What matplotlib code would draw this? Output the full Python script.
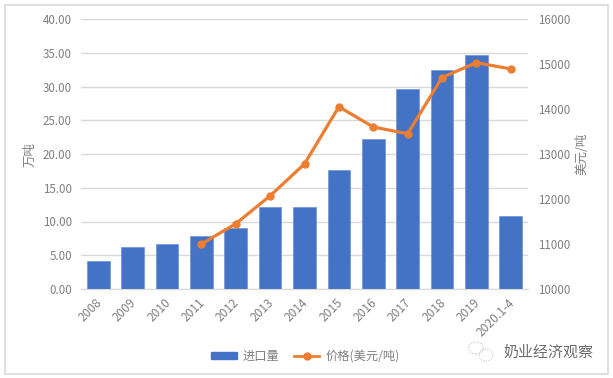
import matplotlib
matplotlib.use('Agg')
import matplotlib.pyplot as plt
from matplotlib.lines import Line2D
from matplotlib.patches import Rectangle, Ellipse
from matplotlib.transforms import ScaledTranslation

plt.rcParams['font.family'] = ['Noto Sans CJK SC', 'DejaVu Sans']

years = ['2008', '2009', '2010', '2011', '2012', '2013', '2014', '2015', '2016', '2017', '2018', '2019', '2020.1-4']
volume = [4.2, 6.2, 6.6, 7.9, 9.1, 12.2, 12.1, 17.6, 22.2, 29.6, 32.4, 34.6, 10.8]
price = [11000, 11450, 12070, 12780, 14050, 13600, 13450, 14700, 15030, 14890]

W, H = 613, 378
grey = '#7f7f7f'
blue = '#4472c4'
orange = '#ed7d31'

fig = plt.figure(figsize=(W / 100, H / 100), dpi=100, facecolor='white')
fig.add_artist(Rectangle((4.5 / W, 1 - 373.5 / H), 603 / W, 369 / H, transform=fig.transFigure,
                         fill=False, edgecolor='#d9d9d9', linewidth=1.2))

ax = fig.add_axes([81 / W, 1 - 289 / H, 447 / W, 270 / H])
x = list(range(len(years)))
ax.bar(x, volume, width=0.66, color=blue, edgecolor='#6f94d8', linewidth=0.5, zorder=2, label='进口量')
ax.set_xlim(-0.5, len(years) - 0.5)
ax.set_ylim(0, 40)
ax.set_yticks(range(0, 45, 5))
ax.set_yticklabels(['%.2f' % v for v in range(0, 45, 5)])
ax.set_xticks(x)
ax.set_xticklabels(years, rotation=45, ha='right', rotation_mode='anchor')
ax.grid(axis='y', color='#d9d9d9', linewidth=1, zorder=0)
ax.set_axisbelow(True)
ax.tick_params(axis='both', length=0, labelsize=8.3, labelcolor=grey)
ax.tick_params(axis='x', pad=5, labelsize=8.6)
ax.tick_params(axis='y', pad=6.5)
# nudge the slanted labels left a little
for lab in ax.get_xticklabels():
    lab.set_transform(lab.get_transform() + ScaledTranslation(-3 / 100, 0, fig.dpi_scale_trans))
for s in ['top', 'left', 'right']:
    ax.spines[s].set_visible(False)
ax.spines['bottom'].set_color('#d9d9d9')

ax2 = ax.twinx()
ax2.plot(x[3:], price, color=orange, linewidth=2.3, marker='o', markersize=5, zorder=3)
ax2.set_ylim(10000, 16000)
ax2.set_yticks(range(10000, 17000, 1000))
ax2.tick_params(axis='y', length=0, labelsize=8.3, labelcolor=grey, pad=7)
for s in ax2.spines.values():
    s.set_visible(False)

# axis titles placed by hand, they sit closer to the ticks than labelpad gives
fig.text(30 / W, 1 - 155 / H, '万吨', color=grey, fontsize=9, rotation=90, ha='center', va='center')
fig.text(582 / W, 1 - 154 / H, '美元/吨', color=grey, fontsize=9, rotation=90, ha='center', va='center')

handles = [Rectangle((0, 0), 1, 1, color=blue),
           Line2D([0], [0], color=orange, linewidth=2, marker='o', markersize=5)]
fig.legend(handles, ['进口量', '价格(美元/吨)'], loc='center', bbox_to_anchor=(305.5 / W, 1 - 356 / H), ncol=2,
           frameon=False, fontsize=8.8, labelcolor=grey, columnspacing=1.15, handlelength=2.1,
           handleheight=0.5, handletextpad=0.5)

# watermark
fig.text(593 / W, 1 - 353 / H, '奶业经济观察', color='#6a6a6a', fontsize=10.8, ha='right', va='center')
for cx, cy, w, h in [(476, 348, 15, 12), (486, 355, 14, 12)]:
    fig.add_artist(Ellipse((cx / W, 1 - cy / H), w / W, h / H, transform=fig.transFigure, fill=False,
                           edgecolor='#b5b5b5', linewidth=0.7, linestyle=':'))

fig.savefig('out.png', dpi=100)
